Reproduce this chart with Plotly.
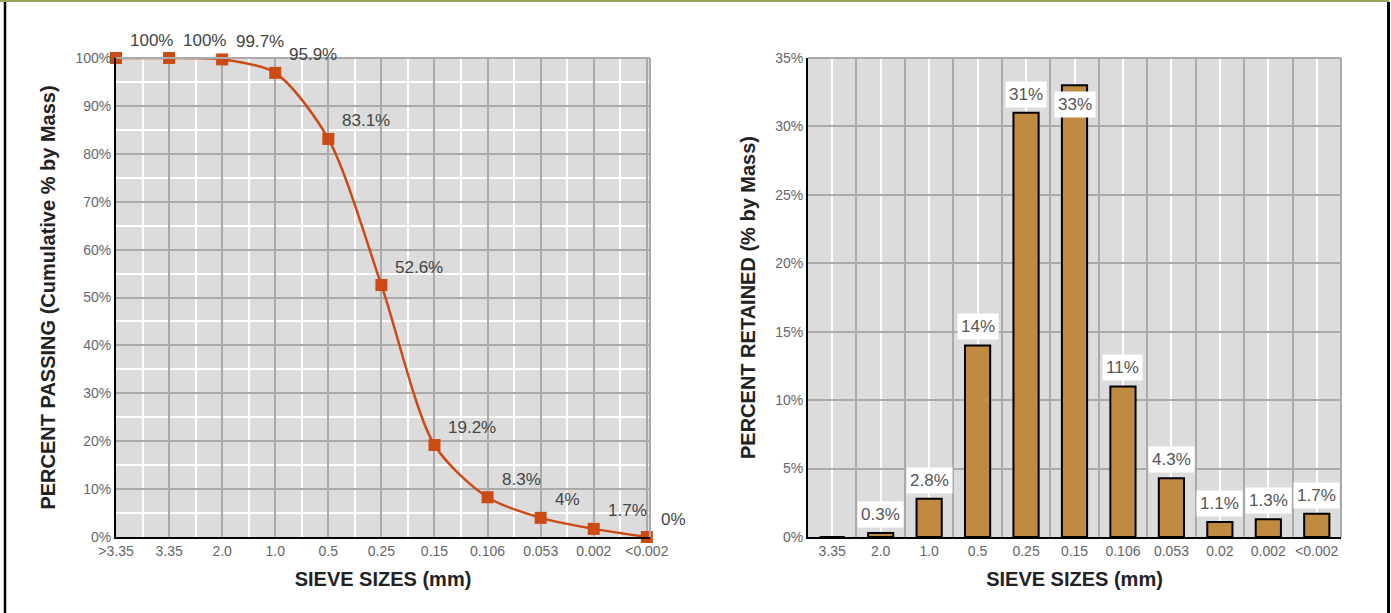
import plotly.graph_objects as go

W, H = 1391, 613

# ---- data: left chart (cumulative % passing) ----
passing_sizes = [">3.35", "3.35", "2.0", "1.0", "0.5", "0.25", "0.15", "0.106", "0.053", "0.002", "<0.002"]
passing_values = [100, 100, 99.7, 96.9, 83.1, 52.6, 19.2, 8.3, 4.0, 1.7, 0]
passing_labels = ["100%", "100%", "99.7%", "95.9%", "83.1%", "52.6%", "19.2%", "8.3%", "4%", "1.7%", "0%"]

# ---- data: right chart (% retained) ----
retained_sizes = ["3.35", "2.0", "1.0", "0.5", "0.25", "0.15", "0.106", "0.053", "0.02", "0.002", "<0.002"]
retained_values = [0, 0.3, 2.8, 14, 31, 33, 11, 4.3, 1.1, 1.3, 1.7]
retained_labels = ["", "0.3%", "2.8%", "14%", "31%", "33%", "11%", "4.3%", "1.1%", "1.3%", "1.7%"]

FONT = "Liberation Sans, Arial, sans-serif"
LINE_COL = "#cc4a14"
BAR_COL = "#c08a40"
GRID_GRAY = "#aaaaaa"
PLOT_BG = "#dcdcdc"

xl = list(range(len(passing_sizes)))
xr = list(range(len(retained_sizes)))

fig = go.Figure()
fig.add_trace(go.Scatter(
    x=xl, y=passing_values, mode="lines+markers",
    line=dict(color=LINE_COL, width=2.5, shape="spline", smoothing=0.8),
    marker=dict(symbol="square", size=12, color=LINE_COL),
    cliponaxis=False, xaxis="x", yaxis="y", showlegend=False, hoverinfo="skip"))
fig.add_trace(go.Bar(
    x=xr, y=retained_values, width=0.52,
    marker=dict(color=BAR_COL, line=dict(color="black", width=2)),
    xaxis="x2", yaxis="y2", showlegend=False, hoverinfo="skip"))

tickfont = dict(family=FONT, size=14, color="#666666")
titlefont = dict(family=FONT, size=20, color="#222222", weight="bold")

y0, y1 = 1 - 537 / H, 1 - 58 / H

fig.update_layout(
    width=W, height=H, margin=dict(l=0, r=0, t=0, b=0),
    paper_bgcolor="white", plot_bgcolor=PLOT_BG,
    xaxis=dict(domain=[116 / W, 650 / W], range=[0, 10.06], anchor="y",
               tickmode="array", tickvals=xl, ticktext=passing_sizes,
               showgrid=True, gridcolor=GRID_GRAY, gridwidth=1.5,
               minor=dict(tick0=0, dtick=0.5, showgrid=True, gridcolor="white", gridwidth=1.5),
               zeroline=False, showline=True, linecolor="black", linewidth=2,
               ticks="", tickfont=tickfont, automargin=False,
               title=dict(text="SIEVE SIZES (mm)", font=titlefont, standoff=14)),
    yaxis=dict(domain=[y0, y1], range=[0, 100], anchor="x",
               tickmode="linear", tick0=0, dtick=10, ticksuffix="%",
               showgrid=True, gridcolor=GRID_GRAY, gridwidth=1.5,
               minor=dict(tick0=0, dtick=5, showgrid=True, gridcolor="white", gridwidth=1.5),
               zeroline=False, showline=True, linecolor="black", linewidth=2,
               ticks="", tickfont=tickfont, automargin=False,
               title=dict(text="PERCENT PASSING (Cumulative % by Mass)", font=titlefont, standoff=14)),
    xaxis2=dict(domain=[808 / W, 1341 / W], range=[-0.5, len(xr) - 0.5], anchor="y2",
                tickmode="array", tickvals=xr, ticktext=retained_sizes,
                showgrid=True, gridcolor="white", gridwidth=1.5,
                minor=dict(tick0=0.5, dtick=1, showgrid=True, gridcolor=GRID_GRAY, gridwidth=1.5),
                zeroline=False, showline=True, linecolor="black", linewidth=2,
                ticks="", tickfont=tickfont, automargin=False,
                title=dict(text="SIEVE SIZES (mm)", font=titlefont, standoff=14)),
    yaxis2=dict(domain=[y0, y1], range=[0, 35], anchor="x2",
                tickmode="linear", tick0=0, dtick=5, ticksuffix="%",
                showgrid=True, gridcolor=GRID_GRAY, gridwidth=1.5,
                zeroline=False, showline=True, linecolor="black", linewidth=2,
                ticks="", tickfont=tickfont, automargin=False,
                title=dict(text="PERCENT RETAINED (% by Mass)", font=titlefont, standoff=14)),
)

annotations = []
for x, v, t in zip(xl, passing_values, passing_labels):
    annotations.append(dict(x=x, y=v, xref="x", yref="y", text=t, showarrow=False,
                            xanchor="left", yanchor="middle", xshift=12, yshift=18,
                            font=dict(family=FONT, size=17, color="#444444")))
ymax_r = 35
for x, v, t in zip(xr, retained_values, retained_labels):
    if not t:
        continue
    inside = v > ymax_r * 0.92
    annotations.append(dict(x=x, y=v, xref="x2", yref="y2", text=t, showarrow=False,
                            xanchor="center", yanchor="top" if inside else "bottom",
                            yshift=-6 if inside else 5,
                            bgcolor="white", borderpad=3,
                            font=dict(family=FONT, size=17, color="#555555")))
fig.update_layout(annotations=annotations)

# plot frame edges (gray top/right) and outer page border
shapes = []
for xa, ya in (("x", "y"), ("x2", "y2")):
    shapes.append(dict(type="line", xref=f"{xa} domain", yref=f"{ya} domain",
                       x0=0, x1=1, y0=1, y1=1, line=dict(color=GRID_GRAY, width=2)))
    shapes.append(dict(type="line", xref=f"{xa} domain", yref=f"{ya} domain",
                       x0=1, x1=1, y0=0, y1=1, line=dict(color=GRID_GRAY, width=2)))
shapes.append(dict(type="line", xref="paper", yref="paper", x0=0, x1=1389 / W, y0=1 - 1 / H, y1=1 - 1 / H,
                   line=dict(color="#9ca35c", width=2)))
shapes.append(dict(type="line", xref="paper", yref="paper", x0=5 / W, x1=5 / W, y0=0, y1=1 - 2 / H,
                   line=dict(color="black", width=2.5)))
shapes.append(dict(type="line", xref="paper", yref="paper", x0=1388.5 / W, x1=1388.5 / W, y0=0, y1=1 - 2 / H,
                   line=dict(color="black", width=3)))
fig.update_layout(shapes=shapes)

fig.write_html("out.html", config={"displayModeBar": False},
               post_script="document.body.style.margin='0';document.body.style.overflow='hidden';")
